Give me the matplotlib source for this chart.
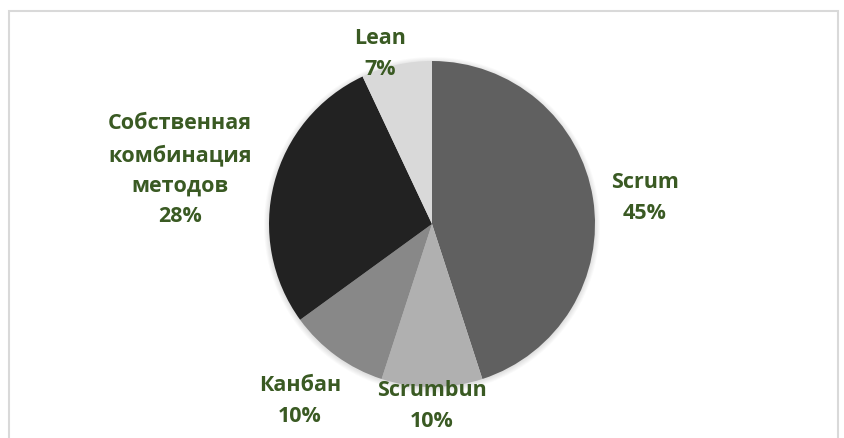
import numpy as np
import matplotlib.pyplot as plt
from matplotlib.patches import Circle, Rectangle

# Data
labels = ['Scrum', 'Scrumbun', 'Канбан', 'Собственная\nкомбинация\nметодов', 'Lean']
shares = [45, 10, 10, 28, 7]
colors = ['#606060', '#b0b0b0', '#888888', '#222222', '#d9d9d9']

# label positions (pixels from top-left, centre of text block)
label_pos = [(645, 198), (432, 406), (300, 401), (180, 170), (380, 54)]

H = 439
plt.rcParams['font.family'] = ['Open Sans', 'DejaVu Sans']

fig = plt.figure(figsize=(8.45, 4.39), dpi=100)
ax = fig.add_axes([0, 0, 1, 1])

# light frame
ax.add_patch(Rectangle((9, -20), 829, H - 12 + 20, fill=False, edgecolor='#d9d9d9', linewidth=1.5))

cx, cy, r = 432, H - 225, 163

# soft shadow around the pie
for k in range(6):
    ax.add_patch(Circle((cx, cy - 1), r + 0.5 + k * 0.9, color='black', alpha=0.018, linewidth=0, zorder=1))

ax.pie(shares, colors=colors, startangle=90, counterclock=False,
       center=(cx, cy), radius=r, frame=True,
       wedgeprops=dict(linewidth=0, zorder=2))
ax.set_xlim(0, 845)
ax.set_ylim(0, H)
ax.set_aspect('equal')
ax.axis('off')

for lab, val, (x, y) in zip(labels, shares, label_pos):
    ax.text(x, H - y, lab + '\n' + str(val) + '%', ha='center', va='center',
            fontsize=15.5, fontweight='bold', color='#3a5a23', linespacing=1.6, zorder=5)

plt.savefig('out.png', dpi=100)
